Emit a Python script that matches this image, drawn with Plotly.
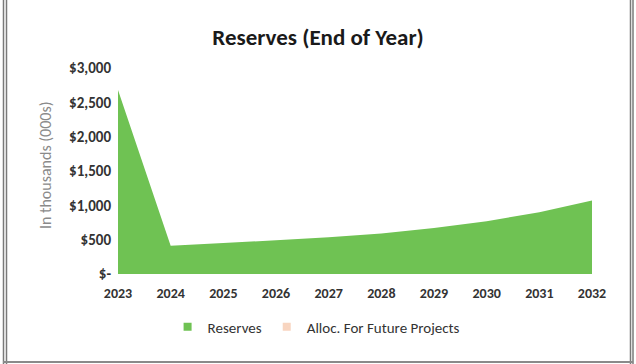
import plotly.graph_objects as go

# Year-end reserves, in thousands of dollars
years = [2023, 2024, 2025, 2026, 2027, 2028, 2029, 2030, 2031, 2032]
reserves = [2680, 410, 450, 490, 535, 590, 670, 770, 900, 1070]
alloc_future = [0, 0, 0, 0, 0, 0, 0, 0, 0, 0]

y_tickvals = [0, 500, 1000, 1500, 2000, 2500, 3000]
y_ticktext = ["$-", "$500", "$1,000", "$1,500", "$2,000", "$2,500", "$3,000"]

W, H = 636, 364
ML, MR, MT, MB = 118, 44, 68, 90
FONT = "Carlito, Lato, 'Open Sans', sans-serif"
GREEN = "#6FC253"
PEACH = "#F8D5C0"

fig = go.Figure()
fig.add_trace(go.Scatter(
    x=years, y=reserves, name="Reserves", mode="lines",
    line=dict(width=0, color=GREEN), fillcolor=GREEN,
    stackgroup="a", showlegend=False,
))
fig.add_trace(go.Scatter(
    x=years, y=alloc_future, name="Alloc. For Future Projects", mode="lines",
    line=dict(width=0, color=PEACH), fillcolor=PEACH,
    stackgroup="a", showlegend=False,
))
# square legend keys
for name, col in (("Reserves", GREEN), ("Alloc. For Future Projects", PEACH)):
    fig.add_trace(go.Scatter(
        x=[None], y=[None], name=name, mode="markers",
        marker=dict(symbol="square", size=8, color=col),
    ))

# frame lines around the chart panel
pw, ph = W - ML - MR, H - MT - MB
def px_x(v):
    return (v - ML) / pw
def px_y(v):
    return (H - MB - v) / ph

shapes = []
for x0 in (3.5, 6.5, 630.5, 633):
    shapes.append(dict(type="line", xref="paper", yref="paper",
                       x0=px_x(x0), x1=px_x(x0), y0=px_y(0), y1=px_y(364),
                       line=dict(color="#7a7a7a", width=1.5)))
shapes.append(dict(type="line", xref="paper", yref="paper",
                   x0=px_x(3), x1=px_x(633), y0=px_y(362), y1=px_y(362),
                   line=dict(color="#8a8a8a", width=2)))

fig.update_layout(
    width=W, height=H,
    margin=dict(l=ML, r=MR, t=MT, b=MB, autoexpand=False),
    paper_bgcolor="white", plot_bgcolor="white",
    font=dict(family=FONT, color="#404040"),
    title=dict(text="<b>Reserves (End of Year)</b>", x=0.5, xref="container",
               y=1 - 37 / H, yref="container", yanchor="middle",
               font=dict(size=23, color="#1a1a1a", family=FONT)),
    xaxis=dict(range=[2023, 2032], tickvals=years, ticktext=[str(y) for y in years],
               showgrid=False, zeroline=False, showline=False,
               tickfont=dict(size=14, color="#333333", family=FONT, weight="bold"),
               ticks="", ticklabelstandoff=9),
    yaxis=dict(range=[0, 3000], tickvals=y_tickvals, ticktext=y_ticktext,
               showgrid=False, zeroline=False, showline=False,
               tickfont=dict(size=15, color="#333333", family=FONT, weight="bold"),
               ticks="", ticklabelstandoff=6),
    annotations=[dict(text="In thousands (000s)", textangle=-90,
                      xref="paper", yref="paper", x=px_x(45), y=px_y(165),
                      xanchor="center", yanchor="middle", showarrow=False,
                      font=dict(size=16, color="#8a8a8a", family=FONT))],
    legend=dict(orientation="h", xref="container", yref="container",
                x=0.497, xanchor="center", y=1 - 327 / H, yanchor="middle",
                font=dict(size=15, color="#333333", family=FONT),
                itemwidth=30, traceorder="normal"),
    shapes=shapes,
    showlegend=True,
)

fig.write_html("out.html")
